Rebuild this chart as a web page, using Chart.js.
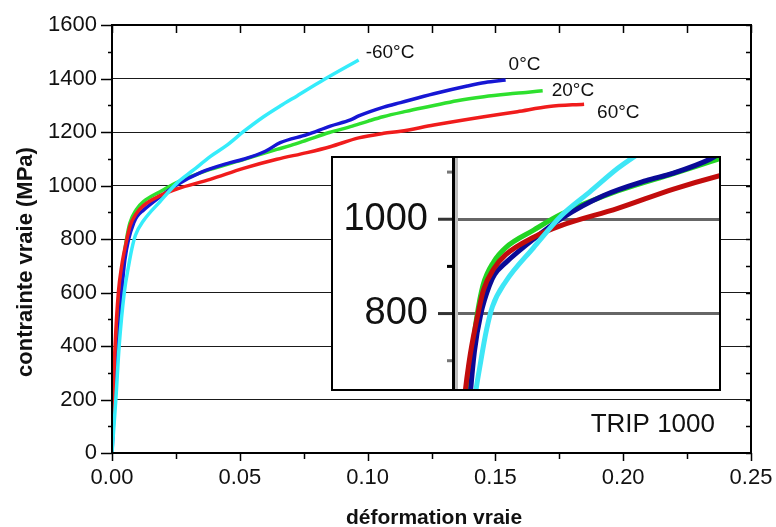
<!DOCTYPE html>
<html>
<head>
<meta charset="utf-8">
<script src="https://cdn.jsdelivr.net/npm/chart.js@4/dist/chart.umd.min.js"></script>
<style>
  body { margin: 0; background: #fff; }
  #wrap { position: relative; width: 776px; height: 527px; }
  #main { position: absolute; left: 0; top: 0; }
  #inset { position: absolute; left: 331px; top: 156px; }
</style>
</head>
<body>
<div id="wrap">
  <canvas id="main" width="776" height="527"></canvas>
  <canvas id="inset" width="390" height="235"></canvas>
</div>
<script>
// data (true strain / true stress MPa)
const strainM60 = [0, 0.0015, 0.0028, 0.0048, 0.0065, 0.0078, 0.0092, 0.0123, 0.0188, 0.0253, 0.0319, 0.0384, 0.045, 0.0514, 0.0593, 0.0658, 0.0724, 0.0828, 0.0965];
const stressM60 = [0, 200, 400, 600, 700, 765, 815, 868, 940, 1008, 1058, 1108, 1151, 1201, 1257, 1297, 1335, 1395, 1469];

const strain0 = [0, 0.001, 0.0025, 0.0038, 0.005, 0.0065, 0.0085, 0.0097, 0.0123, 0.0188, 0.0253, 0.035, 0.045, 0.0514, 0.06, 0.0658, 0.0763, 0.0854, 0.0933, 0.0965, 0.1063, 0.1129, 0.1259, 0.139, 0.146, 0.154];
const stress0 = [0, 200, 400, 600, 720, 800, 860, 883, 908, 958, 1002, 1050, 1082, 1098, 1128, 1160, 1190, 1222, 1245, 1260, 1293, 1310, 1343, 1372, 1385, 1394];

const strain20 = [0, 0.0005, 0.0015, 0.003, 0.0042, 0.0055, 0.007, 0.0095, 0.0123, 0.0188, 0.0253, 0.0384, 0.0514, 0.06, 0.0645, 0.07, 0.0763, 0.085, 0.0933, 0.1, 0.106, 0.115, 0.125, 0.135, 0.1455, 0.155, 0.162, 0.1685];
const stress20 = [0, 200, 400, 600, 700, 790, 860, 910, 940, 977, 1011, 1060, 1097, 1122, 1135, 1150, 1170, 1198, 1220, 1240, 1257, 1277, 1297, 1317, 1332, 1342, 1348, 1354];

const strain60 = [0, 0.0004, 0.0012, 0.0025, 0.0038, 0.0055, 0.0071, 0.0095, 0.0123, 0.0188, 0.0253, 0.0384, 0.0514, 0.0645, 0.0763, 0.0854, 0.0965, 0.1063, 0.1129, 0.1259, 0.1455, 0.1586, 0.171, 0.1847];
const stress60 = [0, 200, 400, 600, 700, 785, 850, 895, 925, 962, 987, 1023, 1064, 1098, 1123, 1145, 1178, 1195, 1203, 1226, 1257, 1276, 1295, 1304];

const tempLabels = ["-60°C", "0°C", "20°C", "60°C"];
const labelOffsets = [[7, -7], [3, -15], [9, 0], [13, 9]];
const mainColors = ["#35ecfb", "#1616d4", "#2ee02e", "#f01c1c"];
const insetColors = ["#3ee6f6", "#0a0a96", "#22d422", "#c20c0c"];

const xTicks = [0, 0.05, 0.10, 0.15, 0.20, 0.25];
const yTicks = [0, 200, 400, 600, 800, 1000, 1200, 1400, 1600];
const insetYTicks = [800, 1000];

function pts(xs, ys) {
  return xs.map((x, i) => ({ x: x, y: ys[i] }));
}

const series = [
  { name: tempLabels[0], xs: strainM60, ys: stressM60, c: 0 },
  { name: tempLabels[1], xs: strain0, ys: stress0, c: 1 },
  { name: tempLabels[2], xs: strain20, ys: stress20, c: 2 },
  { name: tempLabels[3], xs: strain60, ys: stress60, c: 3 }
];
// drawing order: cyan, red, blue, green on top
const order = [0, 3, 1, 2];

function makeSets(colors, width) {
  return order.map(i => ({
    label: series[i].name,
    data: pts(series[i].xs, series[i].ys),
    borderColor: colors[series[i].c],
    borderWidth: width,
    pointRadius: 0,
    cubicInterpolationMode: "monotone",
    fill: false
  }));
}

const FAMILY = "Liberation Sans, Arial, sans-serif";
const tickFont = { family: FAMILY, size: 22 };

// frame, minor ticks, titles and labels for the main plot
const mainDeco = {
  id: "mainDeco",
  afterDraw(chart) {
    const ctx = chart.ctx;
    const a = chart.chartArea;
    const xs = chart.scales.x, ys = chart.scales.y;
    ctx.save();
    ctx.strokeStyle = "#000";
    ctx.lineWidth = 1.5;
    ctx.beginPath();
    for (let v = 0; v <= 1600; v += 100) {
      const y = Math.round(ys.getPixelForValue(v)) + 0.5;
      const len = v % 200 === 0 ? 11 : 4;
      ctx.moveTo(a.left - len, y); ctx.lineTo(a.left, y);
      ctx.moveTo(a.right - 5, y); ctx.lineTo(a.right, y);
    }
    for (let k = 0; k <= 10; k++) {
      const x = Math.round(xs.getPixelForValue(k * 0.025)) + 0.5;
      ctx.moveTo(x, a.top); ctx.lineTo(x, a.top + 8);
      ctx.moveTo(x, a.bottom); ctx.lineTo(x, a.bottom + (k % 2 === 0 ? 8 : 6));
    }
    ctx.stroke();
    ctx.lineWidth = 2;
    ctx.strokeRect(a.left, a.top, a.right - a.left, a.bottom - a.top);

    // temperature labels next to the curve ends
    ctx.fillStyle = "#111";
    ctx.font = "19px " + FAMILY;
    ctx.textBaseline = "middle";
    ctx.textAlign = "left";
    chart.data.datasets.forEach(ds => {
      const idx = tempLabels.indexOf(ds.label);
      const last = ds.data[ds.data.length - 1];
      const px = xs.getPixelForValue(last.x) + labelOffsets[idx][0];
      const py = ys.getPixelForValue(last.y) + labelOffsets[idx][1];
      ctx.fillText(ds.label, px, py);
    });

    ctx.font = "26px " + FAMILY;
    ctx.textAlign = "right";
    ctx.fillText("TRIP 1000", a.right - 36, a.bottom - 28);

    // axis titles
    ctx.font = "bold 21px " + FAMILY;
    ctx.textAlign = "center";
    ctx.fillText("déformation vraie", 434, 518);
    ctx.translate(26, 262);
    ctx.rotate(-Math.PI / 2);
    ctx.font = "bold 22px " + FAMILY;
    ctx.fillText("contrainte vraie (MPa)", 0, 0);
    ctx.restore();
  }
};

new Chart(document.getElementById("main"), {
  type: "line",
  data: { datasets: makeSets(mainColors, 3.5) },
  options: {
    responsive: false,
    animation: false,
    layout: { padding: { top: 25, right: 25, left: 0, bottom: 0 } },
    plugins: { legend: { display: false }, tooltip: { enabled: false } },
    scales: {
      x: {
        type: "linear", min: 0, max: 0.25,
        afterBuildTicks: s => { s.ticks = xTicks.map(v => ({ value: v })); },
        ticks: { callback: v => v.toFixed(2), padding: 12, font: tickFont, color: "#111", maxRotation: 0 },
        grid: { drawOnChartArea: false, drawTicks: false },
        border: { color: "#000", width: 2 },
        afterFit: s => { s.height = 74; s.paddingLeft = 0; s.paddingRight = 0; }
      },
      y: {
        type: "linear", min: 0, max: 1600,
        afterBuildTicks: s => { s.ticks = yTicks.map(v => ({ value: v })); },
        ticks: { callback: v => String(v), padding: 15, font: tickFont, color: "#111" },
        grid: { color: "#1a1a1a", lineWidth: 1, drawTicks: false },
        border: { color: "#000", width: 2 },
        afterFit: s => { s.width = 112; s.paddingTop = 0; s.paddingBottom = 0; }
      }
    }
  },
  plugins: [mainDeco]
});

// zoomed inset around the yield point
const insetDeco = {
  id: "insetDeco",
  beforeDraw(chart) {
    const ctx = chart.ctx;
    ctx.save();
    ctx.fillStyle = "#fff";
    ctx.fillRect(0, 0, chart.width, chart.height);
    ctx.restore();
  },
  afterDraw(chart) {
    const ctx = chart.ctx;
    const a = chart.chartArea;
    const ys = chart.scales.y;
    ctx.save();
    // axis line with grey shadow
    ctx.fillStyle = "#bdbdbd";
    ctx.fillRect(a.left + 2, a.top, 3, a.bottom - a.top);
    ctx.fillStyle = "#000";
    ctx.fillRect(a.left - 1, a.top, 3, a.bottom - a.top);
    for (let v = 700; v <= 1100; v += 100) {
      const y = ys.getPixelForValue(v);
      const major = v % 200 === 0;
      ctx.fillStyle = major ? "#333" : (v === 900 ? "#000" : "#777");
      const len = major ? 14 : 5;
      ctx.fillRect(a.left - 1 - len, y - 1.5, len, 3);
    }
    // big tick labels
    ctx.fillStyle = "#111";
    ctx.font = "38px " + FAMILY;
    ctx.textAlign = "right";
    ctx.textBaseline = "middle";
    insetYTicks.forEach(v => ctx.fillText(String(v), a.left - 25, ys.getPixelForValue(v)));
    ctx.strokeStyle = "#000";
    ctx.lineWidth = 2;
    ctx.strokeRect(1, 1, chart.width - 2, chart.height - 2);
    ctx.restore();
  }
};

new Chart(document.getElementById("inset"), {
  type: "line",
  data: { datasets: makeSets(insetColors, 5) },
  options: {
    responsive: false,
    animation: false,
    layout: { padding: { top: 1, right: 2, left: 0, bottom: 2 } },
    plugins: { legend: { display: false }, tooltip: { enabled: false } },
    scales: {
      x: { type: "linear", min: 0, max: 0.062, display: false },
      y: {
        type: "linear", min: 640, max: 1132,
        afterBuildTicks: s => { s.ticks = insetYTicks.map(v => ({ value: v })); },
        ticks: { display: false },
        grid: { color: "#666", lineWidth: 3, drawTicks: false },
        border: { display: false },
        afterFit: s => { s.width = 122; }
      }
    }
  },
  plugins: [insetDeco]
});
</script>
</body>
</html>
